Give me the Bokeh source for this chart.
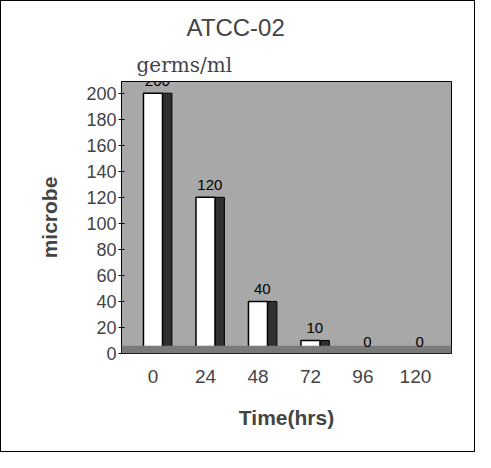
from bokeh.plotting import figure
from bokeh.models import ColumnDataSource, FixedTicker, LabelSet, Title, Range1d, BoxAnnotation
from bokeh.transform import dodge
from bokeh.core.properties import value
from bokeh.embed import file_html
from bokeh.resources import INLINE

hours = [0, 24, 48, 72, 96, 120]
counts = [200, 120, 40, 10, 0, 0]
count_labels = ["200", "120", "40", "10", "0", "0"]
y_ticks = [0, 20, 40, 60, 80, 100, 120, 140, 160, 180, 200]

src = ColumnDataSource(dict(x=hours, top=counts, lab=count_labels))

p = figure(width=475, height=452, output_backend="svg", toolbar_location=None,
           x_range=Range1d(-14.4, 136.5), y_range=Range1d(0, 209),
           min_border_left=120, min_border_right=25, min_border_top=80, min_border_bottom=100)
p.styles = {"border": "1px solid black"}

p.background_fill_color = "#a8a8a8"
p.border_fill_color = "white"
p.outline_line_color = "black"
p.outline_line_width = 1
p.xgrid.visible = False
p.ygrid.visible = False

p.add_layout(BoxAnnotation(top=6, fill_color="#7a7a7a", fill_alpha=1, line_color=None))

p.vbar(x=dodge("x", 6.5, range=p.x_range), top="top", width=4.3, bottom=0, source=src,
       fill_color="#303030", line_color="black", line_width=1)
p.vbar(x="x", top="top", width=8.7, bottom=0, source=src,
       fill_color="white", line_color="black", line_width=1.5)

p.add_layout(LabelSet(x=dodge("x", 2, range=p.x_range), y="top", text="lab", source=src,
                      text_align="center", text_baseline="middle", y_offset=12,
                      text_font_size=value("15px"), text_font=value("Liberation Sans"),
                      text_color="black"))

p.xaxis.ticker = FixedTicker(ticks=hours)
p.yaxis.ticker = FixedTicker(ticks=y_ticks)
p.xaxis.axis_label = "Time(hrs)"
p.yaxis.axis_label = "microbe"
for ax in (p.xaxis, p.yaxis):
    ax.axis_label_text_font = "Liberation Sans"
    ax.axis_label_text_font_style = "bold"
    ax.axis_label_text_font_size = "21px"
    ax.major_label_text_font = "Liberation Sans"
    ax.axis_line_color = "black"
    ax.minor_tick_line_color = None
p.xaxis.major_label_text_font_size = "19px"
p.yaxis.major_label_text_font_size = "18px"
p.xaxis.major_tick_line_color = None
p.xaxis.major_label_standoff = 10
p.xaxis.axis_label_standoff = 20
p.yaxis.major_tick_out = 3
p.yaxis.major_tick_in = 3
p.yaxis.major_label_standoff = 2
p.yaxis.axis_label_standoff = 22

p.add_layout(Title(text="germs/ml", align="left", offset=15, text_font="DejaVu Serif",
                   text_font_size="20px", text_font_style="normal"), "above")
p.add_layout(Title(text="ATCC-02", align="left", offset=65, text_font="Liberation Sans",
                   text_font_size="24px", text_font_style="normal"), "above")

open("out.html", "w").write(file_html(p, INLINE))
